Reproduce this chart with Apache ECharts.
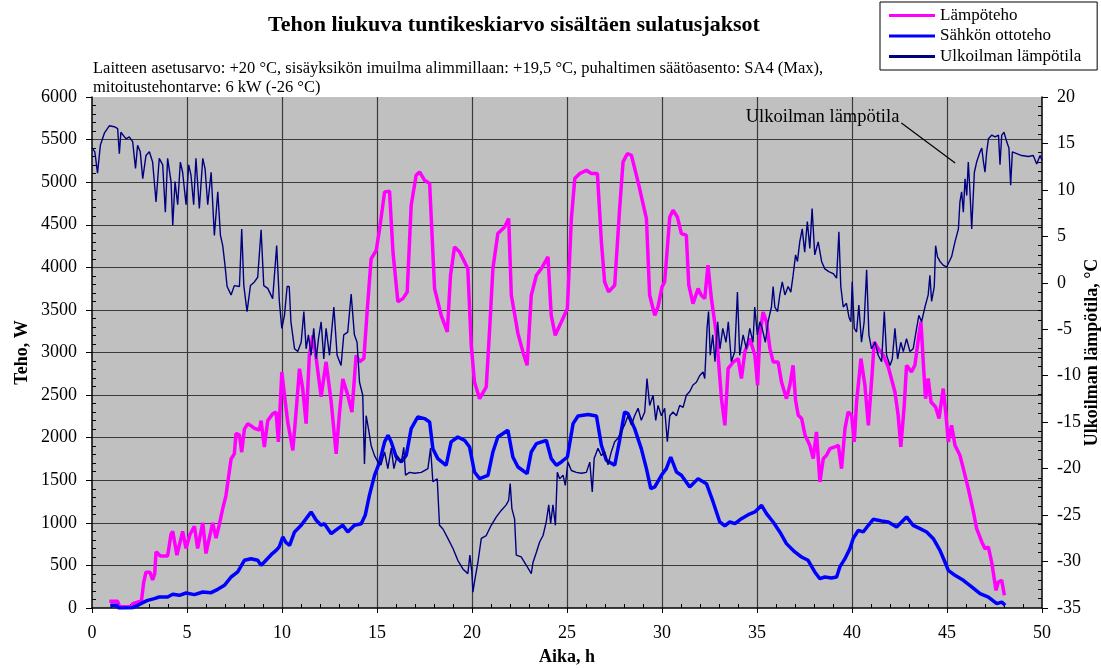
<!DOCTYPE html>
<html>
<head>
<meta charset="utf-8">
<script src="https://cdn.jsdelivr.net/npm/echarts@6/dist/echarts.min.js"></script>
<style>
  html, body { margin: 0; padding: 0; background: #fff; }
  #chart { width: 1101px; height: 668px; }
</style>
</head>
<body>
<div id="chart"></div>
<script>
// [aika h, teho W]
var lampoteho = [
  [0.91, 78], [1.35, 78], [1.45, 15], [2.1, 15], [2.14, 50], [2.4, 70], [2.6, 80], [2.72, 300], [2.84, 420],
  [3.05, 420], [3.19, 330], [3.3, 400], [3.37, 660], [3.6, 610], [3.98, 610], [4.16, 870], [4.25, 900],
  [4.47, 620], [4.77, 900], [4.95, 700], [5.15, 860], [5.39, 960], [5.56, 700], [5.83, 1000], [6.0, 640],
  [6.35, 1000], [6.53, 820], [6.7, 980], [6.88, 1166], [7.05, 1320], [7.32, 1750], [7.49, 1810], [7.58, 2050],
  [7.76, 2030], [7.88, 1830], [8.02, 2100], [8.2, 2165], [8.55, 2110], [8.81, 2090], [8.9, 2200], [9.07, 1890],
  [9.25, 2200], [9.51, 2280], [9.69, 2300], [9.81, 1950], [9.99, 2770], [10.13, 2500], [10.3, 2185],
  [10.57, 1850], [10.74, 2300], [10.92, 2810], [11.09, 2576], [11.27, 2165], [11.44, 2967], [11.62, 3200],
  [11.8, 2930], [12.06, 2480], [12.32, 2890], [12.59, 2420], [12.85, 1810], [13.03, 2300], [13.2, 2690],
  [13.46, 2500], [13.68, 2300], [13.9, 2967], [14.08, 2890], [14.31, 2930], [14.48, 3476], [14.69, 4100],
  [14.96, 4200], [15.14, 4455], [15.4, 4886], [15.66, 4894], [15.84, 4180], [16.1, 3594], [16.36, 3633],
  [16.59, 3711], [16.8, 4730], [17.06, 5082], [17.24, 5120], [17.5, 5023], [17.77, 4984], [18.03, 3750],
  [18.38, 3437], [18.7, 3242], [18.87, 3907], [19.08, 4240], [19.35, 4180], [19.78, 3985], [19.96, 3085],
  [20.13, 2654], [20.4, 2458], [20.75, 2596], [20.93, 3280], [21.1, 3985], [21.36, 4396], [21.72, 4475],
  [21.93, 4573], [22.07, 3672], [22.42, 3222], [22.68, 3007], [22.9, 2850], [23.12, 3672], [23.39, 3907],
  [23.65, 3985], [24.0, 4122], [24.17, 3437], [24.38, 3202], [24.7, 3359], [25.02, 3516], [25.23, 4573],
  [25.41, 5042], [25.67, 5101], [26.02, 5140], [26.28, 5101], [26.6, 5101], [26.81, 4299], [26.98, 3829],
  [27.19, 3711], [27.51, 3790], [27.77, 4690], [27.95, 5238], [28.18, 5336], [28.39, 5316], [28.74, 5003],
  [29.18, 4573], [29.35, 3672], [29.62, 3437], [29.79, 3535], [30.0, 3770], [30.14, 3829], [30.41, 4592],
  [30.58, 4670], [30.81, 4592], [31.02, 4396], [31.28, 4377], [31.41, 3790], [31.63, 3574], [31.9, 3750],
  [32.07, 3672], [32.25, 3633], [32.42, 4024], [32.6, 3633], [32.87, 3202], [33.13, 2458], [33.31, 2145],
  [33.48, 2811], [33.75, 2889], [34.01, 2928], [34.18, 2694], [34.36, 3007], [34.62, 3163], [34.89, 2967],
  [35.03, 2615], [35.15, 3202], [35.32, 3476], [35.5, 3359], [35.68, 3046], [35.85, 2889], [36.11, 2889],
  [36.29, 2654], [36.55, 2458], [36.73, 2615], [36.9, 2850], [37.03, 2439], [37.17, 2263], [37.35, 2224],
  [37.53, 2028], [37.78, 1911], [37.96, 1754], [38.13, 2067], [38.31, 1480], [38.49, 1754], [38.66, 1793],
  [38.84, 1871], [39.1, 1891], [39.28, 1911], [39.45, 1636], [39.63, 2106], [39.8, 2302], [39.98, 2263],
  [40.12, 1950], [40.24, 2419], [40.47, 2928], [40.68, 2615], [40.86, 2145], [41.04, 2694], [41.17, 3124],
  [41.38, 3046], [41.64, 2967], [41.91, 2830], [42.26, 2537], [42.43, 2263], [42.57, 1891], [42.75, 2380],
  [42.87, 2850], [43.13, 2772], [43.31, 2850], [43.52, 3202], [43.63, 3359], [43.75, 2889], [43.87, 2458],
  [44.01, 2694], [44.16, 2419], [44.4, 2360], [44.58, 2224], [44.8, 2576], [44.93, 2302], [45.07, 1950],
  [45.24, 2145], [45.42, 1911], [45.68, 1793], [45.86, 1636], [46.12, 1402], [46.39, 1128], [46.56, 932],
  [46.83, 775], [47.0, 697], [47.18, 716], [47.35, 540], [47.58, 207], [47.7, 305], [47.88, 325], [48.02, 149]
];

// [aika h, teho W]
var sahkoteho = [
  [0.96, 31], [1.3, 31], [1.4, 0], [2.14, 4], [2.4, 31], [2.67, 63], [2.93, 90], [3.28, 110], [3.54, 129],
  [3.98, 129], [4.25, 161], [4.6, 149], [4.95, 176], [5.39, 157], [5.83, 188], [6.27, 180], [6.62, 219],
  [6.97, 266], [7.32, 364], [7.67, 423], [8.02, 560], [8.37, 579], [8.72, 560], [8.9, 501], [9.07, 540],
  [9.43, 626], [9.69, 677], [9.85, 716], [10.04, 834], [10.2, 770], [10.4, 736], [10.66, 893], [11.01, 971],
  [11.27, 1049], [11.53, 1128], [11.8, 1030], [12.06, 971], [12.23, 990], [12.59, 873], [12.94, 932],
  [13.2, 971], [13.46, 893], [13.81, 971], [14.17, 990], [14.38, 1088], [14.6, 1323], [14.87, 1558],
  [15.14, 1715], [15.4, 1950], [15.58, 2028], [15.75, 1950], [16.01, 1773], [16.28, 1715], [16.54, 1793],
  [16.8, 2106], [17.15, 2243], [17.5, 2224], [17.77, 2185], [17.94, 1871], [18.2, 1754], [18.64, 1676],
  [18.9, 1950], [19.25, 2008], [19.61, 1969], [19.87, 1891], [20.13, 1597], [20.4, 1519], [20.84, 1558],
  [21.1, 1832], [21.36, 2008], [21.89, 2087], [22.15, 1773], [22.42, 1656], [22.9, 1578], [23.12, 1832],
  [23.39, 1930], [23.91, 1969], [24.17, 1754], [24.44, 1676], [24.7, 1715], [25.02, 1773], [25.32, 2165],
  [25.58, 2255], [26.11, 2271], [26.55, 2255], [26.81, 1911], [27.07, 1734], [27.51, 1676], [27.77, 1969],
  [28.03, 2302], [28.21, 2282], [28.56, 2106], [28.91, 1871], [29.18, 1636], [29.41, 1402], [29.62, 1421],
  [29.97, 1558], [30.23, 1636], [30.46, 1773], [30.76, 1597], [31.02, 1558], [31.46, 1421], [31.9, 1519],
  [32.34, 1460], [32.69, 1245], [33.04, 1010], [33.31, 963], [33.57, 1010], [33.84, 990], [34.18, 1049],
  [34.54, 1096], [34.89, 1128], [35.24, 1206], [35.5, 1108], [35.85, 1010], [36.2, 893], [36.55, 756],
  [36.99, 658], [37.34, 599], [37.69, 560], [38.04, 423], [38.31, 344], [38.57, 364], [38.92, 352],
  [39.19, 364], [39.36, 482], [39.63, 579], [39.89, 697], [40.06, 814], [40.33, 912], [40.59, 893],
  [40.86, 971], [41.12, 1041], [41.56, 1022], [41.91, 1010], [42.35, 951], [42.61, 1010], [42.87, 1069],
  [43.22, 971], [43.58, 932], [43.93, 893], [44.28, 814], [44.63, 677], [44.89, 540], [45.07, 442],
  [45.42, 384], [45.86, 325], [46.3, 247], [46.74, 168], [47.18, 129], [47.62, 51], [47.88, 70], [48.06, 31]
];

// [aika h, lämpötila °C]
var ulkolampo = [
  [0.03, 14.45], [0.15, 14.1], [0.29, 11.8], [0.44, 14.8], [0.65, 16.1], [0.91, 16.9], [1.17, 16.8],
  [1.35, 16.6], [1.44, 13.9], [1.52, 16.2], [1.79, 15.5], [1.96, 15.7], [2.14, 15.2], [2.29, 12.3],
  [2.4, 14.8], [2.54, 14.1], [2.67, 11.2], [2.84, 13.7], [3.02, 14.1], [3.19, 13.0], [3.37, 8.7],
  [3.54, 13.4], [3.72, 12.7], [3.86, 7.6], [3.98, 13.4], [4.16, 10.9], [4.25, 6.2], [4.37, 10.9],
  [4.51, 8.4], [4.65, 13.0], [4.77, 11.9], [4.95, 8.4], [5.09, 12.7], [5.21, 11.6], [5.35, 8.4],
  [5.47, 13.4], [5.65, 8.0], [5.83, 13.4], [5.95, 12.3], [6.09, 8.4], [6.27, 11.9], [6.44, 5.1],
  [6.62, 9.8], [6.76, 5.1], [6.88, 4.0], [7.0, 1.9], [7.11, -0.4], [7.32, -1.3], [7.49, -0.3],
  [7.76, -0.4], [7.88, 5.8], [7.99, -0.3], [8.16, -3.1], [8.34, -0.3], [8.55, 0.1], [8.72, 0.6],
  [8.9, 5.7], [9.04, -0.3], [9.25, -0.6], [9.51, -1.7], [9.72, 4.0], [9.86, -2.0], [9.99, -4.9],
  [10.13, -3.5], [10.27, -0.4], [10.38, -0.4], [10.47, -4.2], [10.66, -7.1], [10.83, -7.4], [11.01, -6.4],
  [11.15, -3.1], [11.27, -7.1], [11.39, -5.6], [11.53, -7.8], [11.67, -4.9], [11.8, -8.2], [11.92, -6.0],
  [12.06, -4.2], [12.2, -8.2], [12.32, -4.9], [12.5, -7.8], [12.73, -2.6], [12.9, -7.8], [13.11, -8.9],
  [13.25, -5.6], [13.46, -5.3], [13.64, -1.2], [13.81, -5.6], [13.95, -6.4], [14.08, -10.7], [14.25, -12.1],
  [14.34, -19.5], [14.43, -14.3], [14.55, -15.7], [14.69, -17.5], [14.87, -18.6], [15.05, -19.3],
  [15.21, -19.6], [15.4, -18.2], [15.57, -20.0], [15.75, -17.8], [15.89, -20.0], [16.06, -18.6],
  [16.28, -19.3], [16.41, -17.7], [16.5, -20.7], [16.71, -20.4], [16.98, -20.5], [17.33, -20.4],
  [17.68, -20.0], [17.82, -17.8], [17.94, -21.4], [18.17, -21.1], [18.29, -26.1], [18.47, -26.5],
  [18.73, -27.5], [19.0, -28.6], [19.26, -29.9], [19.52, -30.8], [19.78, -31.3], [19.89, -29.3],
  [19.99, -31.1], [20.05, -33.3], [20.13, -32.2], [20.31, -30.1], [20.49, -27.5], [20.75, -27.2],
  [21.01, -26.1], [21.28, -25.2], [21.54, -24.5], [21.8, -23.9], [21.93, -23.4], [22.01, -21.6],
  [22.1, -24.3], [22.24, -25.4], [22.33, -29.3], [22.59, -29.5], [22.86, -30.4], [23.12, -31.3],
  [23.21, -30.1], [23.39, -29.0], [23.56, -27.9], [23.74, -27.2], [23.91, -25.7], [24.04, -23.9],
  [24.14, -25.9], [24.26, -23.9], [24.39, -26.1], [24.49, -20.4], [24.61, -21.1], [24.79, -20.7],
  [24.91, -21.8], [25.05, -19.3], [25.23, -20.2], [25.49, -20.4], [25.76, -20.5], [26.02, -20.4],
  [26.2, -19.3], [26.33, -22.5], [26.43, -18.9], [26.63, -17.8], [26.81, -18.6], [26.98, -18.2],
  [27.16, -19.6], [27.33, -18.2], [27.51, -17.1], [27.69, -16.7], [27.86, -16.0], [28.03, -15.3],
  [28.21, -14.3], [28.39, -15.3], [28.56, -14.3], [28.74, -13.5], [28.91, -14.8], [29.09, -13.9],
  [29.21, -10.3], [29.35, -13.2], [29.53, -12.1], [29.67, -14.8], [29.79, -13.2], [29.97, -14.3],
  [30.14, -13.5], [30.28, -17.1], [30.41, -14.3], [30.58, -13.9], [30.76, -14.3], [30.93, -13.2],
  [31.11, -13.4], [31.28, -12.1], [31.46, -11.7], [31.63, -11.0], [31.81, -10.7], [31.98, -10.0],
  [32.16, -9.6], [32.25, -10.3], [32.37, -4.9], [32.45, -3.1], [32.54, -7.8], [32.67, -5.6], [32.79, -8.5],
  [32.93, -4.2], [33.05, -7.1], [33.2, -4.9], [33.37, -6.4], [33.49, -4.2], [33.65, -8.5], [33.83, -7.4],
  [33.97, -1.0], [34.09, -7.8], [34.27, -5.6], [34.44, -7.1], [34.62, -4.9], [34.79, -6.4], [34.88, -2.6],
  [35.02, -5.6], [35.15, -4.2], [35.27, -4.9], [35.44, -6.4], [35.58, -4.2], [35.76, -2.6], [35.85, -0.4],
  [35.94, -2.6], [36.08, -3.1], [36.2, -1.3], [36.33, 0.1], [36.47, -1.3], [36.64, -0.4], [36.78, -1.0],
  [36.9, 0.8], [37.03, 3.0], [37.13, 2.3], [37.25, 4.4], [37.38, 5.8], [37.51, 3.3], [37.65, 6.6],
  [37.78, 3.7], [37.9, 8.0], [38.04, 3.0], [38.22, 4.4], [38.4, 2.3], [38.57, 1.5], [38.78, 1.2],
  [39.01, 1.0], [39.19, 0.5], [39.31, 5.5], [39.41, -0.4], [39.54, -2.6], [39.71, -2.2], [39.84, -3.7],
  [39.94, -4.2], [40.01, 0.1], [40.12, -4.9], [40.24, -5.3], [40.36, -2.4], [40.5, -6.4], [40.64, -4.2],
  [40.77, 1.4], [40.89, -5.6], [41.03, -7.1], [41.21, -6.4], [41.38, -7.8], [41.56, -8.5], [41.7, -3.1],
  [41.82, -7.8], [42.0, -8.9], [42.12, -8.2], [42.26, -4.9], [42.4, -8.2], [42.57, -6.4], [42.7, -7.4],
  [42.87, -6.0], [43.05, -7.4], [43.22, -7.1], [43.4, -4.9], [43.52, -3.5], [43.66, -4.2], [43.84, -2.6],
  [44.01, -1.3], [44.1, 0.8], [44.19, -2.0], [44.33, -0.4], [44.4, 4.0], [44.5, 2.8], [44.63, 2.3],
  [44.8, 1.9], [44.98, 1.7], [45.24, 2.8], [45.42, 4.4], [45.6, 5.8], [45.68, 8.7], [45.77, 9.8],
  [45.86, 7.6], [45.95, 11.2], [46.04, 9.4], [46.12, 13.0], [46.21, 9.8], [46.3, 5.8], [46.44, 11.9],
  [46.56, 13.0], [46.74, 14.1], [46.83, 14.5], [46.92, 13.0], [47.0, 11.9], [47.09, 14.1], [47.18, 15.5],
  [47.36, 15.9], [47.53, 15.7], [47.71, 15.9], [47.79, 12.7], [47.88, 15.9], [48.0, 16.2], [48.14, 15.2],
  [48.26, 14.5], [48.35, 10.5], [48.44, 14.1], [48.67, 13.9], [48.93, 13.7], [49.28, 13.6], [49.54, 13.7],
  [49.72, 12.8], [49.9, 13.7], [50.0, 13.2]
];

var serif = '"Liberation Serif", "Times New Roman", serif'
var labelFont = { fontFamily: serif, fontSize: 18, color: '#000' }
var nameFont = { fontFamily: serif, fontSize: 18, fontWeight: 'bold', color: '#000' }
var gridLine = { color: '#3a3a3a', width: 1.2 }

var chart = echarts.init(document.getElementById('chart'))

chart.setOption({
  animation: false,
  backgroundColor: '#fff',
  title: [
    {
      text: 'Tehon liukuva tuntikeskiarvo sisältäen sulatusjaksot',
      left: 268,
      top: 14,
      padding: 0,
      textStyle: { fontFamily: serif, fontSize: 22, fontWeight: 'bold', color: '#000' }
    },
    {
      text: 'Laitteen asetusarvo: +20 °C, sisäyksikön imuilma alimmillaan: +19,5 °C, puhaltimen säätöasento: SA4 (Max),\nmitoitustehontarve: 6 kW (-26 °C)',
      left: 93,
      top: 59,
      padding: 0,
      textStyle: { fontFamily: serif, fontSize: 16.5, fontWeight: 'normal', color: '#000', lineHeight: 19 }
    }
  ],
  legend: {
    orient: 'vertical',
    left: 880,
    top: 2,
    padding: [5, 16, 5, 9],
    backgroundColor: '#fff',
    borderColor: '#000',
    borderWidth: 1,
    borderRadius: 0,
    itemWidth: 46,
    itemHeight: 3,
    itemGap: 3.5,
    icon: 'rect',
    textStyle: { fontFamily: serif, fontSize: 17, color: '#000', lineHeight: 15 },
    data: ['Lämpöteho', 'Sähkön ottoteho', 'Ulkoilman lämpötila']
  },
  grid: {
    left: 92,
    right: 59,
    top: 97,
    bottom: 60,
    show: true,
    backgroundColor: '#c0c0c0',
    borderWidth: 0,
    containLabel: false,
    outerBoundsMode: 'none'
  },
  xAxis: [
    {
      type: 'value',
      min: 0,
      max: 50,
      interval: 5,
      name: 'Aika, h',
      nameLocation: 'middle',
      nameGap: 40,
      nameMoveOverlap: false,
      nameTextStyle: nameFont,
      axisLine: { show: true, onZero: false, lineStyle: { color: '#000', width: 1.5 } },
      axisTick: { show: true, inside: false, length: 5, lineStyle: { color: '#000' } },
      axisLabel: Object.assign({ margin: 16 }, labelFont),
      splitLine: { show: true, showMinLine: false, showMaxLine: false, lineStyle: gridLine }
    },
    {
      // pienet jakoviivat sisäpuolelle
      type: 'value',
      min: 0,
      max: 50,
      interval: 5,
      position: 'bottom',
      axisLine: { show: false, onZero: false },
      axisTick: { show: false, inside: true },
      minorTick: { show: true, splitNumber: 5, length: 4, lineStyle: { color: '#000' } },
      axisLabel: { show: false },
      splitLine: { show: false }
    }
  ],
  yAxis: [
    {
      type: 'value',
      min: 0,
      max: 6000,
      interval: 500,
      name: 'Teho, W',
      nameLocation: 'middle',
      nameGap: 61,
      nameMoveOverlap: false,
      nameTextStyle: nameFont,
      axisLine: { show: true, onZero: false, lineStyle: { color: '#000', width: 1.5 } },
      axisTick: { show: true, inside: false, length: 6, lineStyle: { color: '#000' } },
      axisLabel: Object.assign({ margin: 15, formatter: function (v) { return String(v) } }, labelFont),
      splitLine: { show: true, showMinLine: false, showMaxLine: false, lineStyle: gridLine }
    },
    {
      type: 'value',
      min: -35,
      max: 20,
      interval: 5,
      position: 'right',
      name: 'Ulkoilman lämpötila, °C',
      nameLocation: 'middle',
      nameGap: 41,
      nameRotate: 90,
      nameMoveOverlap: false,
      nameTextStyle: nameFont,
      axisLine: { show: true, onZero: false, lineStyle: { color: '#000', width: 1.5 } },
      axisTick: { show: true, inside: false, length: 6, lineStyle: { color: '#000' } },
      axisLabel: Object.assign({ margin: 15 }, labelFont),
      splitLine: { show: false }
    },
    {
      // vasemman akselin pienet jakoviivat
      type: 'value',
      min: 0,
      max: 6000,
      interval: 500,
      position: 'left',
      axisLine: { show: false, onZero: false },
      axisTick: { show: false, inside: true },
      minorTick: { show: true, splitNumber: 5, length: 4, lineStyle: { color: '#000' } },
      axisLabel: { show: false },
      splitLine: { show: false }
    },
    {
      // oikean akselin pienet jakoviivat
      type: 'value',
      min: -35,
      max: 20,
      interval: 5,
      position: 'right',
      axisLine: { show: false, onZero: false },
      axisTick: { show: false, inside: true },
      minorTick: { show: true, splitNumber: 5, length: 4, lineStyle: { color: '#000' } },
      axisLabel: { show: false },
      splitLine: { show: false }
    }
  ],
  series: [
    {
      name: 'Lämpöteho',
      type: 'line',
      data: lampoteho,
      showSymbol: false,
      symbol: 'none',
      itemStyle: { color: '#ff00ff' },
      lineStyle: { color: '#ff00ff', width: 3.5 }
    },
    {
      name: 'Sähkön ottoteho',
      type: 'line',
      data: sahkoteho,
      showSymbol: false,
      symbol: 'none',
      itemStyle: { color: '#0000ff' },
      lineStyle: { color: '#0000ff', width: 3.5 }
    },
    {
      name: 'Ulkoilman lämpötila',
      type: 'line',
      yAxisIndex: 1,
      data: ulkolampo,
      showSymbol: false,
      symbol: 'none',
      itemStyle: { color: '#000080' },
      lineStyle: { color: '#000080', width: 1.4 }
    }
  ]
})

// selite lämpötilakäyrälle
var txt = chart.convertToPixel({ seriesIndex: 2 }, [38.45, 17.85])
var p1 = chart.convertToPixel({ seriesIndex: 2 }, [42.6, 17.2])
var p2 = chart.convertToPixel({ seriesIndex: 2 }, [45.43, 12.9])
chart.setOption({
  graphic: [
    {
      type: 'text',
      x: txt[0],
      y: txt[1],
      style: {
        text: 'Ulkoilman lämpötila',
        font: '18.5px ' + serif,
        fill: '#000',
        align: 'center',
        verticalAlign: 'middle'
      }
    },
    {
      type: 'line',
      shape: { x1: p1[0], y1: p1[1], x2: p2[0], y2: p2[1] },
      style: { stroke: '#000', lineWidth: 1.2 }
    }
  ]
})
</script>
</body>
</html>
